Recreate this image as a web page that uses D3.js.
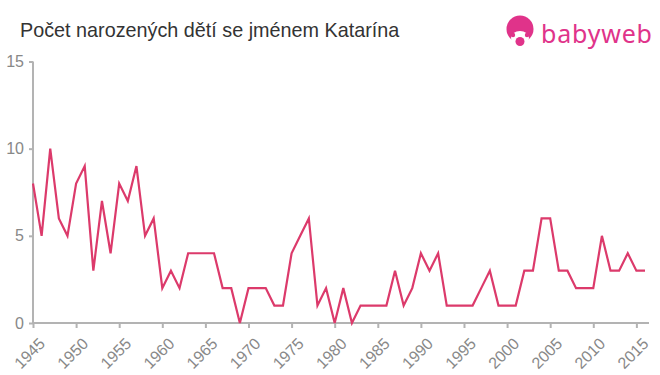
<!DOCTYPE html>
<html><head><meta charset="utf-8">
<script src="https://cdn.jsdelivr.net/npm/d3@7"></script>
<style>body{margin:0;background:#fff}svg{display:block}</style>
</head><body>
<svg id="c" width="660" height="375"></svg>
<script>
const title = "Počet narozených dětí se jménem Katarína";
const years = d3.range(1945, 2017);
const values = [8,5,10,6,5,8,9,3,7,4,8,7,9,5,6,2,3,2,4,4,4,4,2,2,0,2,2,2,1,1,4,5,6,1,2,0,2,0,1,1,1,1,3,1,2,4,3,4,1,1,1,1,2,3,1,1,1,3,3,6,6,3,3,2,2,2,5,3,3,4,3,3];
const yTicks = [0,5,10,15];
const xTicks = [1945,1950,1955,1960,1965,1970,1975,1980,1985,1990,1995,2000,2005,2010,2015];

const svg = d3.select("#c");
const x = d3.scaleLinear().domain([1945, 2016]).range([33, 645]);
const y = d3.scaleLinear().domain([0, 15]).range([323, 61.5]);
const font = "Liberation Sans, Arial, sans-serif";

svg.append("text").attr("x", 20).attr("y", 37).attr("font-family", font)
  .attr("font-size", 19.8).attr("fill", "#333").text(title);

// axes
const gy = svg.append("g").attr("transform", "translate(33,0)")
  .call(d3.axisLeft(y).tickValues(yTicks).tickSize(4).tickPadding(5));
gy.select(".domain").attr("stroke", "#b3b3b3").attr("stroke-width", 2).attr("d", "M0,61.5V323");
gy.selectAll(".tick line").attr("stroke", "#b3b3b3").attr("stroke-width", 2);
gy.selectAll(".tick text").attr("font-family", font).attr("font-size", 16).attr("fill", "#888");

const gx = svg.append("g").attr("transform", "translate(0,323)")
  .call(d3.axisBottom(x).tickValues(xTicks).tickFormat(d3.format("d")).tickSize(5).tickPadding(3));
gx.select(".domain").attr("stroke", "#b3b3b3").attr("stroke-width", 2).attr("d", "M33,0H649");
gx.selectAll(".tick line").attr("stroke", "#b3b3b3").attr("stroke-width", 2);
gx.selectAll(".tick text").attr("font-family", font).attr("font-size", 16).attr("fill", "#888")
  .attr("text-anchor", "end").attr("dy", "0.35em")
  .attr("transform", "translate(3,12) rotate(-45)");

// line
svg.append("path").datum(values)
  .attr("fill", "none").attr("stroke", "#dc3a6b").attr("stroke-width", 2.2)
  .attr("stroke-linejoin", "miter")
  .attr("d", d3.line().x((d, i) => x(years[i])).y(d => y(d)));

// logo
const logo = svg.append("g");
const pink = "#e0338a";
logo.append("circle").attr("cx", 520).attr("cy", 29).attr("r", 13.5).attr("fill", pink);
logo.append("ellipse").attr("cx", 520).attr("cy", 38).attr("rx", 9).attr("ry", 7).attr("fill", "#fff");
logo.append("circle").attr("cx", 513).attr("cy", 35).attr("r", 2.2).attr("fill", pink);
logo.append("circle").attr("cx", 527).attr("cy", 35).attr("r", 2.2).attr("fill", pink);
logo.append("circle").attr("cx", 520).attr("cy", 41.5).attr("r", 4.5).attr("fill", pink);
logo.append("text").attr("x", 541).attr("y", 43).attr("font-family", "Noto Sans, sans-serif")
  .attr("font-size", 25).attr("fill", pink).attr("textLength", 111).attr("lengthAdjust", "spacing").text("babyweb");
</script>
</body></html>
